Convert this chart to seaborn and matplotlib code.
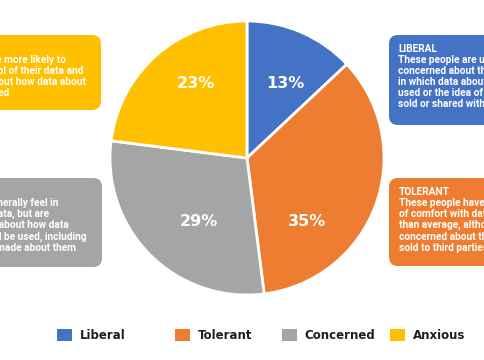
import matplotlib
matplotlib.use("Agg")
import matplotlib.pyplot as plt
import seaborn as sns
from matplotlib.patches import FancyBboxPatch, Patch

# ---- data ----
categories = ["Liberal", "Tolerant", "Concerned", "Anxious"]
shares = [13, 35, 29, 23]
pct_labels = ["13%", "35%", "29%", "23%"]
colors = ["#4472C4", "#ED7D31", "#A5A5A5", "#FFC000"]

box_titles = ["LIBERAL", "TOLERANT", "CONCERNED", "ANXIOUS"]
box_bodies = [
    "These people are un-\nconcerned about the ways\nin which data about them is\nused or the idea of their data being\nsold or shared with others",
    "These people have higher levels\nof comfort with data sharing\nthan average, although they are\nconcerned about their data being\nsold to third parties",
    "These people generally feel in\ncontrol of their data, but are\nmore concerned about how data\nabout them could be used, including\ndecisions being made about them",
    "These people are more likely to\nwant more control of their data and\nbe concerned about how data about\nthem is being used",
]

sns.set_theme(style="white")
plt.rcParams['font.family'] = ['Roboto', 'DejaVu Sans']

W, H = 485, 360
fig = plt.figure(figsize=(4.85, 3.6), dpi=100)
fig.patch.set_facecolor("white")

# background axes in pixel coordinates for the annotation boxes
bg = fig.add_axes([0, 0, 1, 1])
bg.set_xlim(0, W)
bg.set_ylim(H, 0)
bg.axis('off')

# box layout: (left, top, width, height, text_x, text_top)
box_layout = [
    (389, 35, 200, 90, 398, 43.5),    # Liberal
    (389, 178, 200, 88, 399, 187),    # Tolerant
    (-110, 178, 212, 89, -78, 187),   # Concerned
    (-110, 35, 211, 75, -77, 43.5),   # Anxious
]
for (l, t, w, h, tx, ty), col, title, body in zip(box_layout, colors, box_titles, box_bodies):
    bg.add_patch(FancyBboxPatch((l, t), w, h, boxstyle="round,pad=0,rounding_size=9",
                                facecolor=col, edgecolor='none'))
    bg.text(tx, ty, title + "\n" + body, ha='left', va='top', color='white',
            fontsize=7.3, fontweight='bold', linespacing=1.13, clip_on=True)

# pie
cx, cy, R = 247, 158, 137
ax = fig.add_axes([(cx - R) / W, (H - cy - R) / H, 2 * R / W, 2 * R / H])
ax.pie(shares, colors=colors, startangle=90, counterclock=False, radius=1,
       wedgeprops=dict(edgecolor='white', linewidth=2))
ax.set_xlim(-1, 1)
ax.set_ylim(-1, 1)
ax.set_aspect('equal')

label_pos = [(0.277, 0.555), (0.438, -0.453), (-0.35, -0.456), (-0.372, 0.555)]
for (px, py), lab in zip(label_pos, pct_labels):
    ax.text(px, py, lab, ha='center', va='center_baseline', color='white',
            fontsize=11.5, fontweight='bold', family=['DejaVu Sans'])

# legend
leg_x = [57, 175, 282, 390]
for cat, col, x in zip(categories, colors, leg_x):
    handle = Patch(facecolor=col, edgecolor='none')
    fig.legend([handle], [cat], loc='center left', bbox_to_anchor=(x / W, 1 - 335.5 / H),
               frameon=False, borderpad=0, borderaxespad=0, handlelength=1.27,
               handleheight=1.27, handletextpad=0.65, labelcolor='#1e1e1e',
               prop=dict(family='DejaVu Sans', weight='bold', size=8.5))

fig.savefig("out.png", dpi=100)
